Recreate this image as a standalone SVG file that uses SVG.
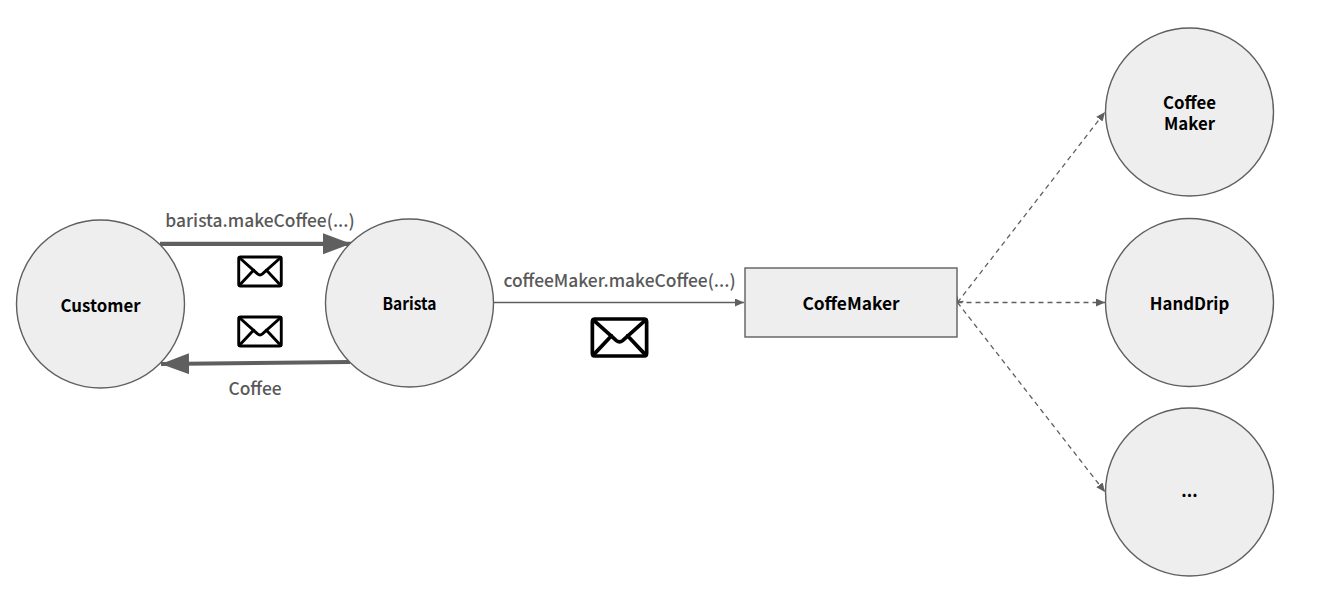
<svg xmlns="http://www.w3.org/2000/svg" width="1327" height="606" viewBox="0 0 1327 606">
<style>
.n{fill:#eeeeee;stroke:#5f5f5f;stroke-width:1.4}
.t{font-family:"Noto Sans CJK KR","Noto Sans",sans-serif;font-size:16.800px;font-weight:700;fill:#000;text-anchor:middle}
.l{font-family:"Noto Sans CJK KR","Noto Sans",sans-serif;font-size:17.400px;font-weight:500;fill:#595959;text-anchor:middle}
.c{fill:none;stroke:#5f5f5f;stroke-width:1.3}
.d{stroke-dasharray:5 4}
.b{stroke-width:4.200}
.e{fill:#fff;stroke:#000;stroke-linejoin:round;stroke-linecap:round}
</style>
<defs>
<marker id="s" markerUnits="userSpaceOnUse" markerWidth="10" markerHeight="8" refX="9" refY="4" orient="auto"><path d="M0 0L9 4L0 8Z" fill="#5f5f5f"/></marker>
<marker id="o" markerUnits="userSpaceOnUse" markerWidth="10" markerHeight="10" refX="0.5" refY="5" orient="auto"><path d="M5 1L1 5L5 9" fill="none" stroke="#5f5f5f" stroke-width="1.2"/></marker>
<marker id="L" markerUnits="userSpaceOnUse" markerWidth="29" markerHeight="22" refX="28" refY="10.5" orient="auto"><path d="M0 0L28 10.5L0 21Z" fill="#5f5f5f"/></marker>
<symbol id="env" viewBox="0 0 44 30" overflow="visible"><rect x="0" y="0" width="44" height="30" rx="2"/><path d="M0.500 0.500L19.500 17.500Q22 19.500 24.500 17.500L43.500 0.500M0.500 29.500L15.500 13.500M43.500 29.500L28.500 13.500" fill="none"/></symbol>
</defs>
<g id="connectors">
<path class="c b" d="M160 243.800H351" marker-end="url(#L)"/>
<path class="c b" d="M350 362L161 364" marker-end="url(#L)"/>
<path class="c" d="M494 302.500H744" marker-end="url(#s)"/>
<path class="c d" d="M957.500 302.500L1105 112" marker-end="url(#s)" marker-start="url(#o)"/>
<path class="c d" d="M957.500 302.500H1105" marker-end="url(#s)"/>
<path class="c d" d="M957.500 302.500L1105 492" marker-end="url(#s)"/>
</g>
<g id="customer"><circle class="n" cx="100.500" cy="304" r="84"/><text class="t" x="100.500" y="312">Customer</text></g>
<g id="barista"><circle class="n" cx="409.500" cy="303" r="84"/><text class="t" x="409.500" y="310" textLength="54" lengthAdjust="spacingAndGlyphs">Barista</text></g>
<g id="coffemaker"><rect class="n" x="745" y="268" width="212" height="69"/><text class="t" x="851" y="310" textLength="97" lengthAdjust="spacingAndGlyphs">CoffeMaker</text></g>
<g id="coffee-maker"><circle class="n" cx="1189.500" cy="112" r="84"/><text class="t"><tspan x="1189.500" y="109">Coffee</tspan><tspan x="1189.500" y="130">Maker</tspan></text></g>
<g id="handdrip"><circle class="n" cx="1189.500" cy="302.500" r="84"/><text class="t" x="1189.500" y="310">HandDrip</text></g>
<g id="etc"><circle class="n" cx="1189.500" cy="492" r="84"/><text class="t" x="1189.500" y="497">...</text></g>
<g id="labels">
<text class="l" x="260" y="227">barista.makeCoffee(...)</text>
<text class="l" x="255" y="395">Coffee</text>
<text class="l" x="619.500" y="287">coffeeMaker.makeCoffee(...)</text>
</g>
<g id="envelopes">
<use class="e" href="#env" x="238" y="257" width="44" height="29" stroke-width="3"/>
<use class="e" href="#env" x="238" y="317" width="44" height="29" stroke-width="3"/>
<use class="e" href="#env" x="592" y="319" width="55" height="37" stroke-width="3"/>
</g>
</svg>
